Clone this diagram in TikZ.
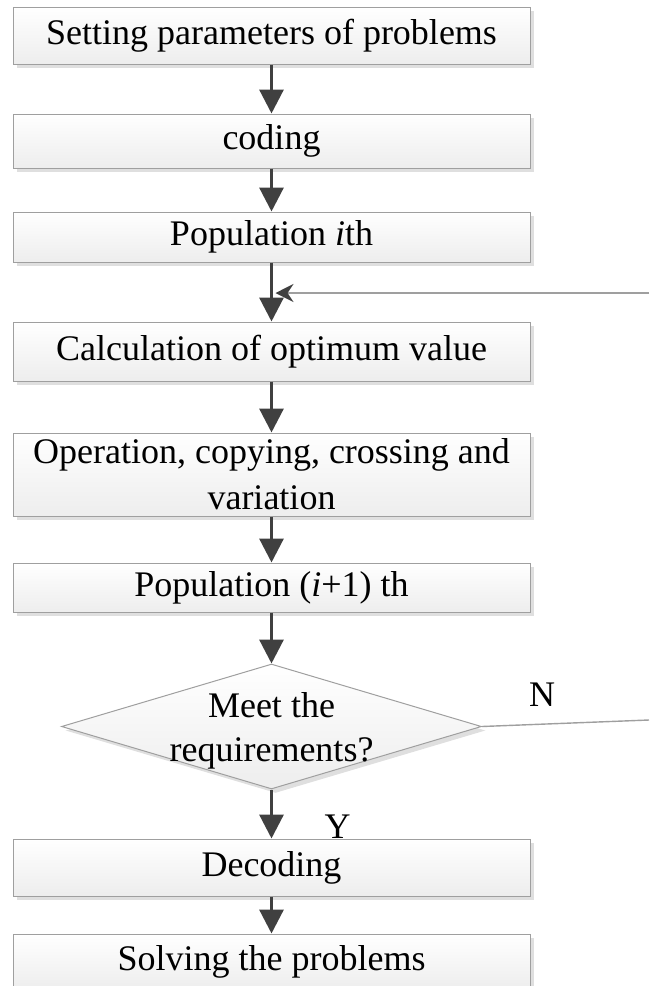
\documentclass[tikz,border=0pt]{standalone}
\usepackage{fontspec}
\setmainfont{Liberation Serif}
\usetikzlibrary{arrows.meta,positioning,shapes.geometric,shadows}

\begin{document}
\begin{tikzpicture}[x=0.5pt,y=-0.5pt, font=\fontsize{18}{23}\selectfont,
 b/.style={draw=gray!75,line width=0.5pt,top color=white,bottom color=gray!14,
  drop shadow={opacity=0.25,shadow xshift=2pt,shadow yshift=-2pt},
  align=center,minimum width=258.5pt,inner sep=1pt},
 dec/.style={diamond,draw=gray!75,line width=0.5pt,top color=white,bottom color=gray!14,
  drop shadow={opacity=0.25,shadow xshift=2pt,shadow yshift=-2pt},
  minimum width=210pt,minimum height=62.5pt,inner sep=0pt},
 a/.style={-{Triangle[length=12pt,width=12pt]},line width=1.6pt,draw=black!75},
 fb/.style={draw=gray!75,line width=0.7pt}]
\useasboundingbox (0,0) rectangle (649,986);
\node[b,minimum height=28.5pt] (set) at (271.5,35.5) {Setting parameters of problems};
\node[b,minimum height=27pt,below=24.5pt of set] (cod) {coding};
\node[b,minimum height=25pt,below=21.5pt of cod] (popi) {Population \textit{i}th};
\node[b,minimum height=29.5pt,below=29.5pt of popi] (calc) {Calculation of optimum value};
\node[b,minimum height=41.5pt,below=25.5pt of calc] (oper) {Operation, copying, crossing and\\variation};
\node[b,minimum height=24.5pt,below=23pt of oper] (popn) {Population (\textit{i}+1) th};
\node[dec,below=25.5pt of popn,label={[align=center,font=\fontsize{18}{22}\selectfont,yshift=-2pt]center:Meet the\\requirements?}] (meet) {};
\node[b,minimum height=28.5pt,below=24.5pt of meet] (deco) {Decoding};
\node[b,minimum height=28pt,below=18.5pt of deco] (solv) {Solving the problems};
\coordinate (nend) at (649,720);
\coordinate (fend) at (649,293);
\draw[a] (set)--(cod);\draw[a] (cod)--(popi);\draw[a] (popi)--(calc);
\draw[a] (calc)--(oper);\draw[a] (oper)--(popn);\draw[a] (popn)--(meet);
\draw[a] (meet)-- node[pos=0.75,xshift=33pt]{Y} (deco);\draw[a] (deco)--(solv);
% loop back when the test fails
\draw[fb] (meet.east)-- node[pos=0.36,above=5pt]{N} (nend);
\draw[fb,-{Stealth[length=9pt,width=9pt,inset=3pt,color=black!75]}] (fend)--([xshift=2pt]fend-|popi.south);
\end{tikzpicture}
\end{document}
